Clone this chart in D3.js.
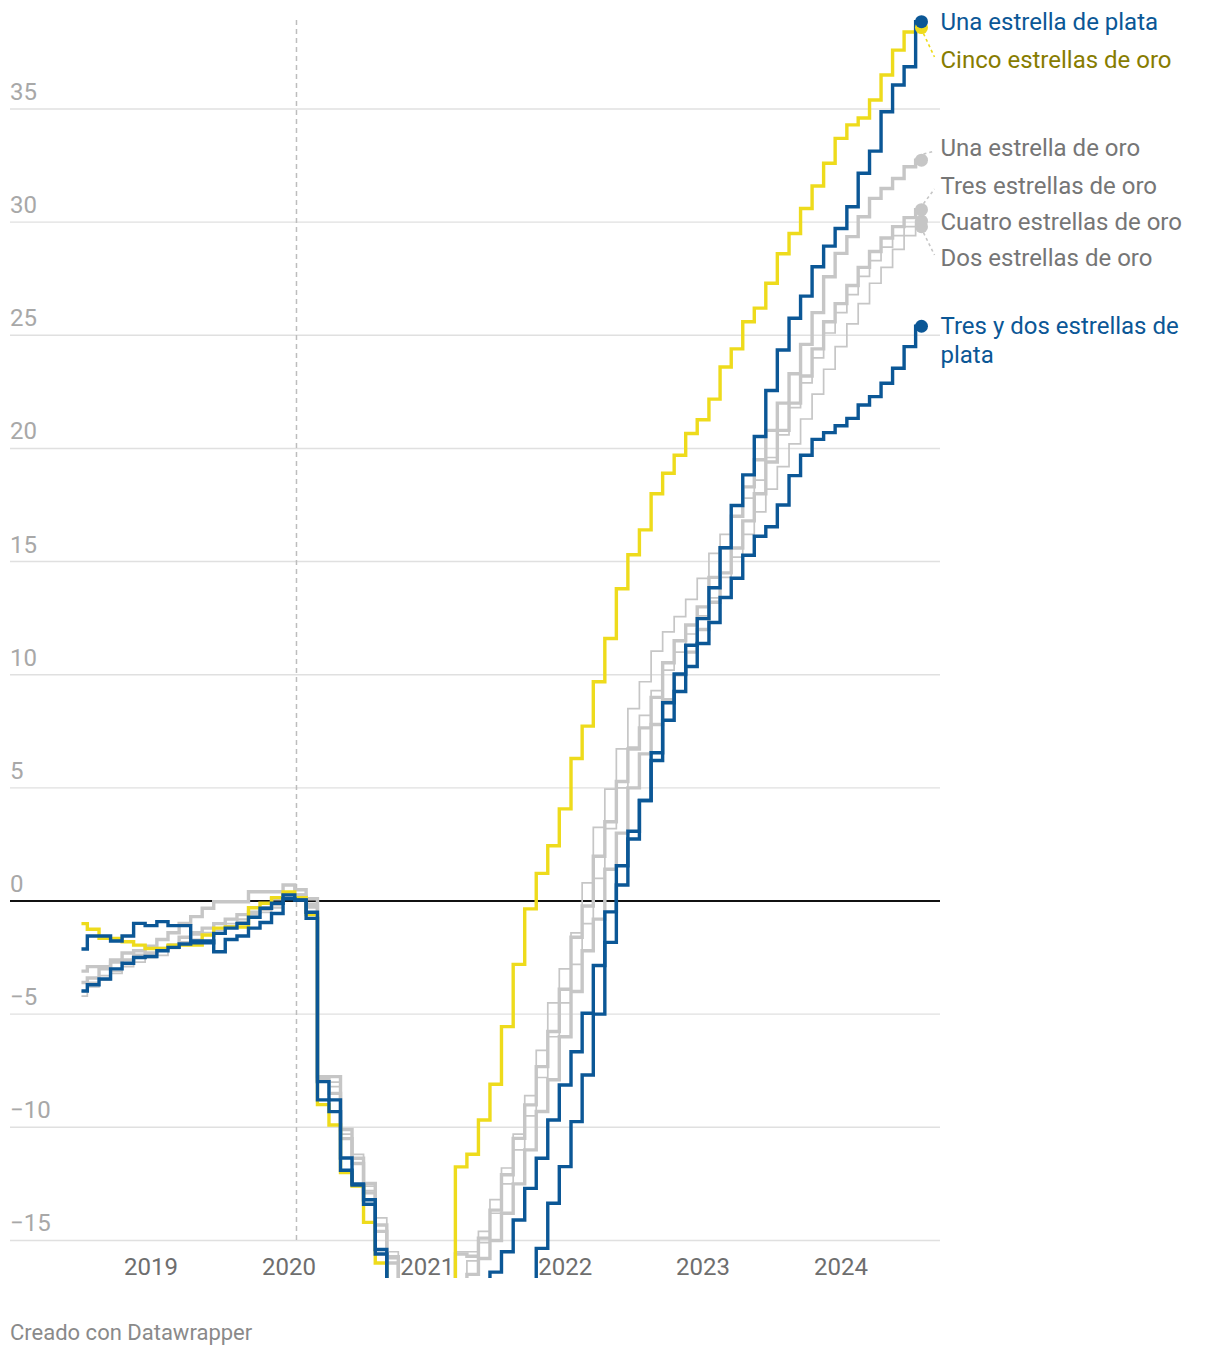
<!DOCTYPE html>
<html><head><meta charset="utf-8">
<script src="https://cdn.jsdelivr.net/npm/d3@7"></script>
<style>
body{margin:0;background:#fff;}
svg text{font-family:Roboto,"Noto Sans",sans-serif;}
</style></head><body>
<svg id="chart" width="1220" height="1356"></svg>
<script>
const months = [
"2018-07","2018-08","2018-09","2018-10","2018-11","2018-12",
"2019-01","2019-02","2019-03","2019-04","2019-05","2019-06","2019-07","2019-08","2019-09","2019-10","2019-11","2019-12",
"2020-01","2020-02","2020-03","2020-04","2020-05","2020-06","2020-07","2020-08","2020-09","2020-10","2020-11","2020-12",
"2021-01","2021-02","2021-03","2021-04","2021-05","2021-06","2021-07","2021-08","2021-09","2021-10","2021-11","2021-12",
"2022-01","2022-02","2022-03","2022-04","2022-05","2022-06","2022-07","2022-08","2022-09","2022-10","2022-11","2022-12",
"2023-01","2023-02","2023-03","2023-04","2023-05","2023-06","2023-07","2023-08","2023-09","2023-10","2023-11","2023-12",
"2024-01","2024-02","2024-03","2024-04","2024-05","2024-06","2024-07","2024-08"];

const unaEstrellaPlata = [
-3.98,-3.7,-3.45,-3.0,-2.75,-2.5,
-2.45,-2.2,-2.05,-1.9,-1.85,-1.85,-1.43,-1.2,-0.99,-0.72,-0.32,-0.1,
0.27,0.04,-0.77,-7.98,-8.79,-11.36,-12.5,-13.2,-15.4,-18,-20,-21,
-22,-22,-21,-20,-19,-17.5,-16.4,-15.5,-14.1,-12.7,-11.37,-9.68,
-8.13,-6.66,-4.96,-2.85,-0.48,1.56,3.08,4.44,6.55,8.76,10.03,11.3,
12.48,13.84,15.61,17.48,18.83,20.53,22.56,24.35,25.75,26.73,28.03,28.94,
29.72,30.68,32.16,33.14,34.88,36.06,36.87,38.86];

const tresYDosPlata = [
-2.12,-1.55,-1.55,-1.77,-1.55,-0.99,
-1.09,-0.91,-1.09,-1.09,-1.77,-1.77,-2.24,-1.7,-1.55,-1.2,-0.95,-0.55,
0.1,0.05,-0.5,-8.79,-9.31,-11.9,-12.55,-13.4,-15.6,-18,-20,-22,
-23,-24,-23,-22,-21,-20,-19,-18,-17.5,-17,-15.35,-13.36,
-11.74,-9.75,-7.69,-5.0,-1.83,0.71,2.74,4.44,6.21,7.99,9.26,10.36,
11.38,12.31,13.41,14.26,15.28,16.12,16.54,17.5,18.8,19.7,20.4,20.7,
21.0,21.33,21.92,22.29,22.88,23.54,24.5,25.4];

const cincoEstrellasOro = [
-1.0,-1.25,-1.65,-1.65,-1.8,-1.95,
-2.1,-2.1,-1.95,-1.95,-1.95,-1.5,-1.2,-1.15,-1.15,-0.3,-0.1,0.15,
0.4,0.15,-0.6,-9.0,-9.9,-12.0,-12.6,-14.2,-16.0,-18,-20,-22,
-24,-23,-20,-11.75,-11.19,-9.68,-8.1,-5.55,-2.8,-0.35,1.22,2.44,
4.07,6.3,7.73,9.69,11.6,13.8,15.3,16.4,18.0,18.9,19.7,20.66,
21.27,22.18,23.6,24.4,25.6,26.2,27.3,28.6,29.5,30.6,31.6,32.6,
33.7,34.3,34.6,35.4,36.5,37.6,38.4,38.6];

const unaEstrellaOro = [
-3.1,-2.9,-2.9,-2.6,-2.3,-2.2,
-2.0,-1.7,-1.4,-0.99,-0.69,-0.32,-0.03,-0.03,-0.03,0.41,0.41,0.41,
0.71,0.5,0.1,-7.76,-7.76,-10.1,-11.37,-12.48,-14.32,-15.72,-18,-20,
-21,-20,-18,-15.6,-15.7,-14.9,-13.66,-12.1,-10.49,-9.01,-7.32,-5.77,
-3.9,-1.6,-0.22,1.98,3.5,5.28,6.72,7.65,9.0,10.53,11.5,12.2,
13.0,14.3,15.6,17.0,18.3,19.5,20.8,22.0,23.3,24.6,26.0,27.59,
28.62,29.36,30.24,31.05,31.49,31.93,32.45,32.74];

const tresEstrellasOro = [
-3.6,-3.4,-3.0,-2.7,-2.6,-2.4,
-2.3,-2.1,-2.0,-1.6,-1.4,-1.2,-1.0,-0.8,-0.6,-0.5,-0.3,0.1,
0.3,0.2,-0.2,-7.9,-8.5,-10.5,-11.6,-12.9,-14.6,-16.0,-18,-20,
-21,-21,-19,-17,-16.5,-15.8,-15.0,-13.8,-12.5,-11.0,-9.3,-7.9,
-6.0,-4.0,-2.2,-0.8,1.4,3.0,5.0,6.5,7.8,8.9,10.0,11.0,
12.0,13.2,14.5,15.6,16.8,18.0,19.4,20.8,22.0,23.2,24.4,25.6,
26.4,27.2,28.0,28.7,29.3,29.8,30.2,30.55];

const cuatroEstrellasOro = [
-4.0,-3.6,-3.3,-3.1,-2.8,-2.5,
-2.4,-2.2,-1.9,-1.8,-1.5,-1.4,-1.2,-1.0,-0.8,-0.7,-0.4,-0.2,
0.2,0.3,-0.3,-7.8,-8.2,-10.3,-11.6,-12.8,-14.6,-15.8,-18,-20,
-21,-20,-18,-15.5,-15.5,-14.6,-13.2,-11.8,-10.3,-8.6,-6.6,-4.5,
-3.0,-1.41,0.8,3.25,4.94,6.72,8.5,9.69,11.04,11.89,12.57,13.33,
14.26,15.36,16.2,17.0,17.8,18.6,19.6,20.6,21.8,22.9,24.0,25.1,
26.0,26.8,27.6,28.3,28.9,29.4,29.8,30.05];

const dosEstrellasOro = [
-4.2,-3.8,-3.5,-3.2,-2.9,-2.7,
-2.5,-2.4,-2.1,-1.9,-1.7,-1.5,-1.3,-1.1,-0.9,-0.6,-0.5,-0.3,
0.1,0.3,-0.1,-8.0,-8.0,-10.5,-11.2,-12.6,-14.0,-15.5,-17.5,-20,
-22,-21,-19,-17,-15.9,-15.1,-13.8,-12.5,-11.0,-9.5,-7.8,-6.0,
-4.5,-2.8,-1.0,1.0,3.2,5.0,6.8,8.2,9.3,10.2,11.0,11.8,
12.6,13.4,14.3,15.2,16.2,17.2,18.2,19.2,20.2,21.3,22.4,23.5,
24.5,25.5,26.4,27.3,28.0,28.8,29.4,29.8];

const yTicks = [-15,-10,-5,0,5,10,15,20,25,30,35];
const yearLabels = ["2019","2020","2021","2022","2023","2024"];
const markerDate = "2020-01-21";
const footer = "Creado con Datawrapper";

const BLUE = "#0b5796", YELLOW = "#eedb1c", GRAY = "#c6c6c6", GRAYTXT = "#767676";

const series = [
  {name:"Dos estrellas de oro", values:dosEstrellasOro, color:GRAY, w:1.7, label:["Dos estrellas de oro"], lc:GRAYTXT, ly:258},
  {name:"Cuatro estrellas de oro", values:cuatroEstrellasOro, color:GRAY, w:1.7, label:["Cuatro estrellas de oro"], lc:GRAYTXT, ly:222},
  {name:"Tres estrellas de oro", values:tresEstrellasOro, color:GRAY, w:3.4, label:["Tres estrellas de oro"], lc:GRAYTXT, ly:186},
  {name:"Una estrella de oro", values:unaEstrellaOro, color:GRAY, w:3.4, label:["Una estrella de oro"], lc:GRAYTXT, ly:148},
  {name:"Cinco estrellas de oro", values:cincoEstrellasOro, color:YELLOW, w:3.4, label:["Cinco estrellas de oro"], lc:"#877c00", ly:60},
  {name:"Tres y dos estrellas de plata", values:tresYDosPlata, color:BLUE, w:3.4, label:["Tres y dos estrellas de","plata"], lc:BLUE, ly:326},
  {name:"Una estrella de plata", values:unaEstrellaPlata, color:BLUE, w:3.4, label:["Una estrella de plata"], lc:BLUE, ly:22}
];

const parse = d3.timeParse("%Y-%m");
const dates = months.map(parse);

const svg = d3.select("#chart");
svg.append("rect").attr("width",1220).attr("height",1356).attr("fill","#fff");

const x = d3.scaleTime().domain([new Date(2019,0,1), new Date(2024,0,1)]).range([151,841]);
const y = d3.scaleLinear().domain([0,35]).range([901,109]);
const left = 10, right = 940;

const g = svg.append("g");
g.selectAll("line.grid").data(yTicks.filter(v=>v!==0)).join("line")
  .attr("x1",left).attr("x2",right).attr("y1",d=>y(d)).attr("y2",d=>y(d))
  .attr("stroke","#e0e0e0").attr("stroke-width",1.4);
g.selectAll("text.ytick").data(yTicks).join("text")
  .attr("x",left).attr("y",d=>y(d)-9)
  .attr("font-size",24).attr("fill","#a8a8a8")
  .text(d=> d<0 ? "\u2212"+Math.abs(d) : d);

g.selectAll("text.xtick").data(yearLabels).join("text")
  .attr("x",d=>x(new Date(+d,0,1))).attr("y",1275)
  .attr("text-anchor","middle").attr("font-size",24).attr("fill","#6e6e6e")
  .text(d=>d);

const mx = x(d3.timeParse("%Y-%m-%d")(markerDate));
g.append("line").attr("x1",mx).attr("x2",mx).attr("y1",20).attr("y2",y(-15))
  .attr("stroke","#bdbdbd").attr("stroke-width",1.5).attr("stroke-dasharray","5,4");

g.append("line").attr("x1",left).attr("x2",right).attr("y1",y(0)).attr("y2",y(0))
  .attr("stroke","#111").attr("stroke-width",2);

svg.append("clipPath").attr("id","clip").append("rect")
  .attr("x",0).attr("y",0).attr("width",1220).attr("height",1278);

const line = d3.line().curve(d3.curveStep).x((d,i)=>x(dates[i])).y(d=>y(d));
const lg = svg.append("g").attr("clip-path","url(#clip)");
series.forEach(s=>{
  lg.append("path").datum(s.values).attr("d",line)
    .attr("fill","none").attr("stroke",s.color).attr("stroke-width",s.w)
    .attr("stroke-linejoin","miter").attr("stroke-linecap","butt");
});

const lastX = x(dates[dates.length-1]);
series.forEach(s=>{
  const v = s.values[s.values.length-1];
  const dy = y(v);
  if (Math.abs(s.ly - dy) > 9) {
    const sg = s.ly > dy ? 1 : -1;
    svg.append("line").attr("x1",lastX+2).attr("y1",dy+sg*6).attr("x2",lastX+13).attr("y2",s.ly-sg*3)
      .attr("stroke",s.color).attr("stroke-width",1.6).attr("stroke-dasharray","3,3");
  }
});
series.forEach(s=>{
  const v = s.values[s.values.length-1];
  svg.append("circle").attr("cx",lastX).attr("cy",y(v)).attr("r",6.5).attr("fill",s.color);
});
series.forEach(s=>{
  const t = svg.append("text").attr("x",lastX+19).attr("y",s.ly+8)
    .attr("font-size",24).attr("fill",s.lc);
  s.label.forEach((l,i)=>{
    t.append("tspan").attr("x",lastX+19).attr("dy",i===0?0:29).text(l);
  });
});

svg.append("text").attr("x",10).attr("y",1340).attr("font-size",22).attr("fill","#8a8a8a").text(footer);
</script>
</body></html>
